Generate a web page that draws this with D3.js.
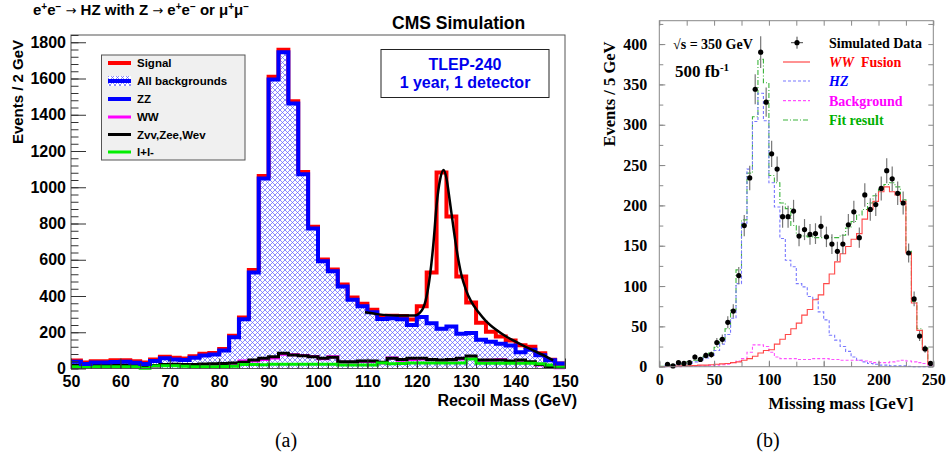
<!DOCTYPE html>
<html>
<head>
<meta charset="utf-8">
<script src="https://cdn.jsdelivr.net/npm/d3@7"></script>
<style>
  body { margin: 0; background: #fff; }
  svg { display: block; }
  .sans { font-family: "Liberation Sans", Arial, sans-serif; font-weight: bold; }
  .serif { font-family: "Liberation Serif", "Times New Roman", serif; font-weight: bold; }
</style>
</head>
<body>
<svg width="946" height="464"></svg>
<script>
// ----- panel (a): recoil mass, 2 GeV bins 50..150 -----
var recoilEdges = d3.range(50, 152, 2);
var allBkg = [37,25,33,33,36, 37,32,25,41,56, 50,47,60,72,77, 100,172,272,530,1048,
              1595,1745,1462,1072,772, 592,536,453,380,343, 310,273,277,272,240,
              284,250,220,232,192, 196,158,148,136,127, 90,103,73,45,27];
var signal = [7,8,7,7,9, 8,8,8,8,9, 10,8,8,9,8, 8,9,9,14,14,
              14,14,12,12,10, 10,10,10,12,14, 14,14,14,18,30,
              60,280,862,607,315, 168,94,55,40,28, 38,17,11,3,1];
var zvvZeeWev = [18,16,17,17,18, 20,18,14,16,22, 24,22,22,25,26, 28,30,34,47,56,
                 65,84,74,70,65, 56,62,37,37,41, 41,34,56,50,56,
                 56,50,47,50,56, 69,47,47,47,41, 47,37,22,10,5];
var wwBkg = [14,12,13,13,14, 15,14,11,13,17, 19,18,18,20,21, 24,26,41,42,50,
             58,78,76,72,66, 54,65,34,35,38, 38,31,58,46,50,
             52,47,44,46,52, 62,44,45,48,38, 42,33,20,9,4];
var llBkg = [10,9,10,10,10, 10,9,2,14,15, 15,12,10,10,10, 11,12,22,22,21,
             23,23,24,24,24, 23,23,19,19,19, 19,31,26,28,30,
             30,30,30,30,30, 52,29,29,29,29, 29,29,26,20,12];
// black fit curve over the signal peak
var fitMass   = [109.5,112,116,119.5,121,122,122.7,123.4,124,124.7,125.4,126,126.7,127.4,128.1,129,130,131,132.5,134,136,138,140,142,144,146,147.6];
var fitEvents = [310,300,292,292,320,400,520,700,900,1040,1095,1050,920,780,650,520,430,370,310,262,215,178,148,120,94,68,45];
var yTicksA = [0,200,400,600,800,1000,1200,1400,1600,1800];
var xTicksA = [50,60,70,80,90,100,110,120,130,140,150];

// ----- panel (b): missing mass, 5 GeV bins 0..250 -----
var missEdges = d3.range(0, 255, 5);
var simData = [0,3,1,5,4, 5,12,9,14,15, 30,34,55,69,113, 175,234,344,390,328,
               264,245,186,186,193, 162,170,164,165,174, 161,152,143,152,176,
               192,160,213,195,201, 221,243,233,215,203, 141,84,38,22,4];
var wwFusion = [0.2,0.3,0.5,0.7,1, 1,1.5,2,2,2.5, 3,3.5,4,5,6, 8,10,13,17,20,
                21,28,34,40,47, 54,64,71,83,89, 103,115,130,140,149,
                158,165,183,195,205, 217,223,217,213,205, 141,79,45,21,3];
var hzSignal = [0.3,1,1,2,3, 4,6,8,11,14, 20,28,40,60,103, 178,245,304,339,305,
                228,198,159,132,124, 103,99,87,84,68, 58,39,33,25,19,
                12,8,6,4,3, 2,2,1,1,1, 0.5,0,0,0,0];
var otherBkg = [0,0,0,0,0.3, 0.5,0.5,1,1,1.5, 2,2.5,3,5,7, 10,18,27,27,25,
                18,12,10,10,10, 9,9,9,10,10, 10,9,9,8,8,
                8,8,7,6,5, 5,5,6,7,8, 7,6,5,4,2];
var fitResult = [0.5,1.5,2,3,4, 6,8,10,13,17, 24,34,47,70,120, 182,240,310,381,352,
                 237,228,203,196,175, 163,162,161,160,160, 160,160,160,163,172,
                 180,188,195,203,212, 220,226,228,223,207, 143,81,47,23,4];
var yTicksB = [0,50,100,150,200,250,300,350,400];
var xTicksB = [0,50,100,150,200,250];

var svg = d3.select("svg");

function steps(edges, vals) {
    return edges.map(function(e, i) { return { x: e, v: vals[Math.min(i, vals.length - 1)] }; });
}

// hatch for "All backgrounds"
var pat = svg.append("defs").append("pattern")
    .attr("id", "hatch")
    .attr("patternUnits", "userSpaceOnUse")
    .attr("width", 5).attr("height", 5);
pat.append("rect").attr("width", 5).attr("height", 5).attr("fill", "#fff");
pat.append("path").attr("d", "M0,0L5,5M5,0L0,5")
    .attr("stroke", "#6666ff").attr("stroke-width", 0.75);

// ================= panel (a) =================
var xA = d3.scaleLinear().domain([50, 150]).range([71, 565]);
var yA = d3.scaleLinear().domain([0, 1840]).range([368.5, 35]);

var lineA = d3.line().curve(d3.curveStepAfter).x(d => xA(d.x)).y(d => yA(d.v));
var areaA = d3.area().curve(d3.curveStepAfter).x(d => xA(d.x)).y0(yA(0)).y1(d => yA(d.v));

var gA = svg.append("g");

gA.append("path").datum(steps(recoilEdges, allBkg))
    .attr("d", areaA).attr("fill", "url(#hatch)");

[[wwBkg, "#ff00ff"], [zvvZeeWev, "#000"], [llBkg, "#00ee00"]].forEach(function(s) {
    gA.append("path").datum(steps(recoilEdges, s[0]))
        .attr("d", lineA).attr("fill", "none")
        .attr("stroke", s[1]).attr("stroke-width", 3);
});

// signal stacked on top of the backgrounds
var sigStack = allBkg.map((v, i) => v + signal[i]);
gA.append("path").datum(steps(recoilEdges, sigStack))
    .attr("d", lineA).attr("fill", "none")
    .attr("stroke", "#ff0000").attr("stroke-width", 4);

gA.append("path").datum(steps(recoilEdges, allBkg))
    .attr("d", lineA).attr("fill", "none")
    .attr("stroke", "#0000ff").attr("stroke-width", 4);

gA.append("path").datum(fitMass.map((m, i) => [m, fitEvents[i]]))
    .attr("d", d3.line().curve(d3.curveMonotoneX).x(d => xA(d[0])).y(d => yA(d[1])))
    .attr("fill", "none").attr("stroke", "#000").attr("stroke-width", 2.5);

// frame
gA.append("rect").attr("x", 71).attr("y", 35).attr("width", 494).attr("height", 333.5)
    .attr("fill", "none").attr("stroke", "#555").attr("stroke-width", 1);

// axes, ticks drawn inward like ROOT
gA.append("g").attr("transform", "translate(71,0)")
    .call(d3.axisLeft(yA).tickValues(yTicksA).tickFormat(d3.format("d")).tickSize(-15).tickPadding(5));
gA.append("g").attr("transform", "translate(71,0)")
    .call(d3.axisLeft(yA).tickValues(d3.range(0, 1841, 40)).tickSize(-7.5).tickFormat(""));
gA.append("g").attr("transform", "translate(0,368.5)")
    .call(d3.axisBottom(xA).tickValues(xTicksA).tickFormat(d3.format("d")).tickSize(-10).tickPadding(7));
gA.append("g").attr("transform", "translate(0,368.5)")
    .call(d3.axisBottom(xA).tickValues(d3.range(50, 151, 2)).tickSize(-5).tickFormat(""));
gA.selectAll(".domain").remove();
gA.selectAll(".tick line").attr("stroke", "#333");
gA.selectAll(".tick text").attr("class", "sans").attr("font-size", 16).attr("fill", "#000");

gA.append("text").attr("class", "sans").attr("font-size", 15)
    .attr("transform", "translate(23,92) rotate(-90)")
    .attr("text-anchor", "middle").text("Events / 2 GeV");
gA.append("text").attr("class", "sans").attr("font-size", 16)
    .attr("x", 577).attr("y", 406).attr("text-anchor", "end").text("Recoil Mass (GeV)");

// title, arrows taken from DejaVu so they come out wide like the original
var title = gA.append("text").attr("class", "sans").attr("font-size", 15)
    .attr("x", 33).attr("y", 14.5);
[["e"], ["+", 1], ["e"], ["\u2212", 1], [" "], ["\u2192", 2], [" HZ with Z "], ["\u2192", 2], [" e"], ["+", 1], ["e"], ["\u2212", 1],
 [" or \u03bc"], ["+", 1], ["\u03bc"], ["\u2212", 1]].forEach(function(p) {
    var ts = title.append("tspan").text(p[0]);
    if (p[1] === 1) ts.attr("baseline-shift", "super").attr("font-size", 10);
    if (p[1] === 2) ts.attr("font-family", "DejaVu Sans").attr("font-weight", "normal").attr("font-size", 13);
});
gA.append("text").attr("class", "sans").attr("font-size", 17.5)
    .attr("x", 392).attr("y", 29).text("CMS Simulation");

// info box
gA.append("rect").attr("x", 381).attr("y", 49.5).attr("width", 168).attr("height", 48)
    .attr("fill", "#fff").attr("stroke", "#222");
gA.append("text").attr("class", "sans").attr("font-size", 16).attr("fill", "#0000ee")
    .attr("x", 465).attr("y", 70).attr("text-anchor", "middle").text("TLEP-240");
gA.append("text").attr("class", "sans").attr("font-size", 16).attr("fill", "#0000ee")
    .attr("x", 465).attr("y", 88).attr("text-anchor", "middle").text("1 year, 1 detector");

// legend
var legA = [
    { label: "Signal", color: "#ff0000", w: 4 },
    { label: "All backgrounds", color: "#0000ff", w: 4, hatch: true },
    { label: "ZZ", color: "#0000ff", w: 4 },
    { label: "WW", color: "#ff00ff", w: 3 },
    { label: "Zvv,Zee,Wev", color: "#000", w: 3 },
    { label: "l+l-", color: "#00ee00", w: 3 }
];
var legRowsA = [63, 81, 99, 117, 134.5, 152];
gA.append("rect").attr("x", 101.5).attr("y", 55).attr("width", 143.5).attr("height", 105)
    .attr("fill", "#f0f0f0").attr("stroke", "#555");
legA.forEach(function(d, i) {
    var y = legRowsA[i];
    if (d.hatch) {
        gA.append("rect").attr("x", 108).attr("y", y - 5).attr("width", 23).attr("height", 10)
            .attr("fill", "url(#hatch)");
    }
    gA.append("line").attr("x1", 108).attr("x2", 131).attr("y1", y).attr("y2", y)
        .attr("stroke", d.color).attr("stroke-width", d.w);
    gA.append("text").attr("class", "sans").attr("font-size", 11.5)
        .attr("x", 137).attr("y", y + 4).text(d.label);
});

// ================= panel (b) =================
var xB = d3.scaleLinear().domain([0, 250]).range([659.3, 933.3]);
var yB = d3.scaleLinear().domain([0, 429]).range([366.7, 20.7]);
var lineB = d3.line().curve(d3.curveStepAfter).x(d => xB(d.x)).y(d => yB(d.v));

var gB = svg.append("g");

var seriesB = [
    [fitResult, "#3cb43c", "5,2,1,2"],
    [hzSignal, "#7878ff", "3,2"],
    [otherBkg, "#ff50ff", "3,2"],
    [wwFusion, "#ff4848", null]
];
seriesB.forEach(function(s) {
    gB.append("path").datum(steps(missEdges, s[0]))
        .attr("d", lineB).attr("fill", "none")
        .attr("stroke", s[1]).attr("stroke-width", 1.1)
        .attr("stroke-dasharray", s[2]);
});

var pts = simData.map((v, i) => ({ x: missEdges[i] + 2.5, v: v })).filter(d => d.v > 0);
gB.selectAll("line.err").data(pts).enter().append("line")
    .attr("class", "err")
    .attr("x1", d => xB(d.x)).attr("x2", d => xB(d.x))
    .attr("y1", d => yB(d.v + Math.sqrt(d.v))).attr("y2", d => yB(Math.max(0, d.v - Math.sqrt(d.v))))
    .attr("stroke", "#777").attr("stroke-width", 1.2);
gB.selectAll("circle.pt").data(pts).enter().append("circle")
    .attr("class", "pt")
    .attr("cx", d => xB(d.x)).attr("cy", d => yB(d.v)).attr("r", 2.6).attr("fill", "#000");

gB.append("rect").attr("x", 659.3).attr("y", 20.7).attr("width", 274).attr("height", 346)
    .attr("fill", "none").attr("stroke", "#888");

var minorY = d3.range(0, 426, 25), minorX = d3.range(0, 251, 25);
gB.append("g").attr("transform", "translate(659.3,0)")
    .call(d3.axisLeft(yB).tickValues(yTicksB).tickSize(-6).tickPadding(12));
gB.append("g").attr("transform", "translate(659.3,0)")
    .call(d3.axisLeft(yB).tickValues(minorY).tickSize(-4).tickFormat(""));
gB.append("g").attr("transform", "translate(933.3,0)")
    .call(d3.axisRight(yB).tickValues(minorY).tickSize(-5).tickFormat(""));
gB.append("g").attr("transform", "translate(0,366.7)")
    .call(d3.axisBottom(xB).tickValues(xTicksB).tickSize(-6).tickPadding(7));
gB.append("g").attr("transform", "translate(0,366.7)")
    .call(d3.axisBottom(xB).tickValues(minorX).tickSize(-5).tickFormat(""));
gB.append("g").attr("transform", "translate(0,20.7)")
    .call(d3.axisTop(xB).tickValues(minorX).tickSize(-5).tickFormat(""));
gB.selectAll(".domain").remove();
gB.selectAll(".tick line").attr("stroke", "#888");
gB.selectAll(".tick text").attr("class", "serif").attr("font-size", 16).attr("fill", "#000");

gB.append("text").attr("class", "serif").attr("font-size", 16.5)
    .attr("transform", "translate(615,94) rotate(-90)")
    .attr("text-anchor", "middle").text("Events / 5 GeV");
gB.append("text").attr("class", "serif").attr("font-size", 17)
    .attr("x", 841).attr("y", 409).attr("text-anchor", "middle").text("Missing mass [GeV]");

gB.append("text").attr("class", "serif").attr("font-size", 14)
    .attr("x", 673).attr("y", 49).text("\u221as = 350 GeV");
var lumi = gB.append("text").attr("class", "serif").attr("font-size", 17)
    .attr("x", 675).attr("y", 77);
lumi.append("tspan").text("500 fb");
lumi.append("tspan").attr("baseline-shift", "super").attr("font-size", 11).text("-1");

// legend (b)
var legRowsB = [42.7, 62, 81, 100.7, 120];
gB.append("line").attr("x1", 797).attr("x2", 797).attr("y1", legRowsB[0] - 6).attr("y2", legRowsB[0] + 6)
    .attr("stroke", "#444").attr("stroke-width", 1);
gB.append("line").attr("x1", 791).attr("x2", 803).attr("y1", legRowsB[0]).attr("y2", legRowsB[0])
    .attr("stroke", "#444").attr("stroke-width", 1);
gB.append("circle").attr("cx", 797).attr("cy", legRowsB[0]).attr("r", 2.6).attr("fill", "#000");
gB.append("text").attr("class", "serif").attr("font-size", 14)
    .attr("x", 829).attr("y", legRowsB[0] + 5).text("Simulated Data");

var legB = [
    { parts: [["WW", true], ["  Fusion", false]], color: "#ff0000", line: "#ff4848", dash: null },
    { parts: [["HZ", true]], color: "#0000ff", line: "#7878ff", dash: "3,2" },
    { parts: [["Background", false]], color: "#ff00ff", line: "#ff50ff", dash: "3,2" },
    { parts: [["Fit result", false]], color: "#00b000", line: "#3cb43c", dash: "5,2,1,2" }
];
legB.forEach(function(d, i) {
    var y = legRowsB[i + 1];
    gB.append("line").attr("x1", 783).attr("x2", 810).attr("y1", y).attr("y2", y)
        .attr("stroke", d.line).attr("stroke-width", 1.2).attr("stroke-dasharray", d.dash);
    var t = gB.append("text").attr("class", "serif").attr("font-size", 14)
        .attr("x", 829).attr("y", y + 5).attr("fill", d.color).attr("xml:space", "preserve");
    d.parts.forEach(function(p) {
        t.append("tspan").attr("font-style", p[1] ? "italic" : "normal").text(p[0]);
    });
});

// captions
svg.append("text").attr("font-family", "Liberation Serif, serif").attr("font-size", 20)
    .attr("x", 286).attr("y", 447).attr("text-anchor", "middle").text("(a)");
svg.append("text").attr("font-family", "Liberation Serif, serif").attr("font-size", 20)
    .attr("x", 768).attr("y", 447).attr("text-anchor", "middle").text("(b)");
</script>
</body>
</html>
